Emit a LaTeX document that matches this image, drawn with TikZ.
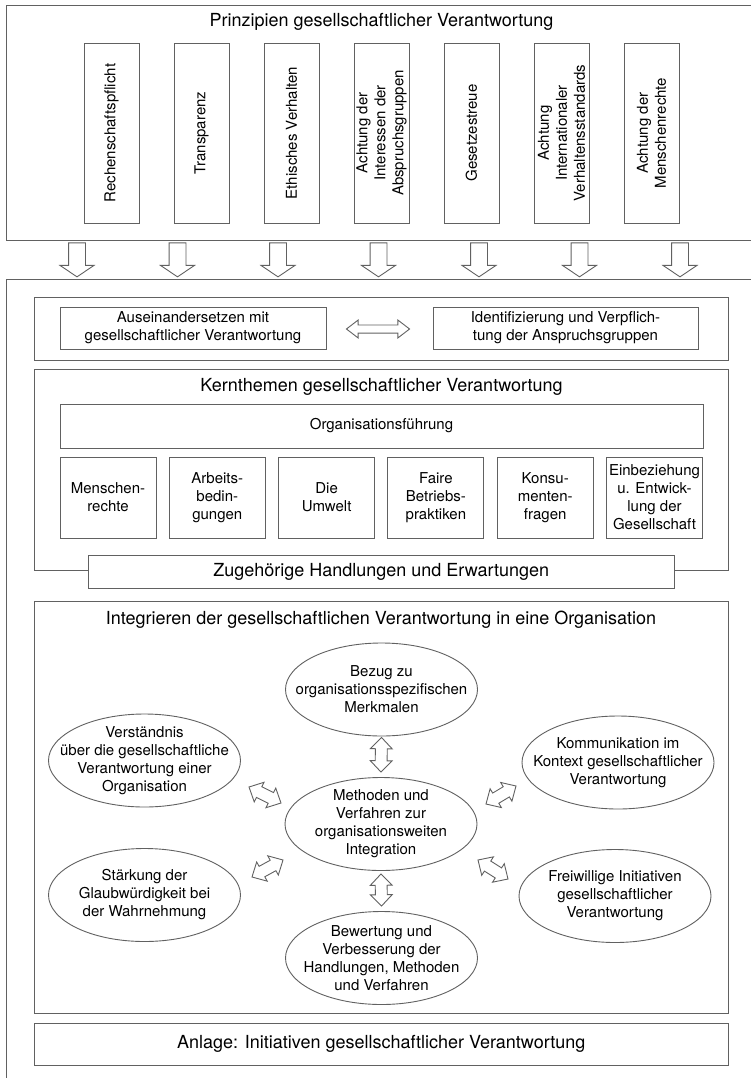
\documentclass[tikz,border=0pt]{standalone}
\usepackage{fontspec}
\setmainfont{TeX Gyre Heros}
\usetikzlibrary{shapes.geometric,shapes.arrows,calc}
\definecolor{linegray}{gray}{0.38}
\newcommand{\fatarrow}[3]{%
  \path let \p1 = ($(#3)-(#2)$) in
    node[#1, rotate={atan2(\y1,\x1)}, minimum height={veclen(\x1,\y1)}]
      at ($(#2)!0.5!(#3)$) {};
}
\tikzset{
  frame/.style     = {draw=linegray, line width=0.9pt},
  caption/.style   = {font=\fontsize{18}{21}\selectfont},
  body/.style      = {font=\fontsize{15}{18}\selectfont, align=center},
  panel/.style     = {frame, fill=white, minimum width=693.5pt, inner sep=0pt},
  textbox/.style   = {frame, body, minimum height=42pt, inner sep=0pt},
  principle/.style = {frame, body, rotate=90, minimum width=180pt,
                      minimum height=55pt, inner sep=0pt},
  topic/.style     = {frame, body, minimum width=96pt, minimum height=81pt,
                      inner sep=0pt},
  field/.style     = {frame, body, ellipse, minimum width=192pt,
                      minimum height=93pt, inner sep=-30pt},
  downarrow/.style = {frame, single arrow, inner xsep=0pt, inner ysep=8pt,
                      single arrow head extend=8.5pt,
                      single arrow tip angle=112, outer sep=0pt},
  twoway/.style    = {frame, double arrow, inner xsep=0pt, inner ysep=3.6pt,
                      double arrow head extend=4.9pt,
                      double arrow tip angle=75, outer sep=0pt},
  bigtwoway/.style = {frame, double arrow, inner xsep=0pt, inner ysep=5.5pt,
                      double arrow head extend=5pt,
                      double arrow tip angle=88, outer sep=0pt}
}
\begin{document}
\begin{tikzpicture}[x=1pt, y=-1pt]
  \useasboundingbox (0,0) rectangle (751,1078);
  \draw[frame] (751,5) -| (6,240) -- (751,240);
  \node[caption] (principles) at (381.5,22) {Prinzipien gesellschaftlicher Verantwortung};
  \foreach \txt [count=\i from 0] in {Rechenschaftspflicht, Transparenz,
      Ethisches Verhalten, {Achtung der\\Interessen der\\Abspruchsgruppen},
      Gesetzestreue, {Achtung\\Internationaler\\Verhaltensstandards},
      {Achtung der\\Menschenrechte}}
    \node[principle] (prin\i) at (111.5+90*\i,133) {\txt};
  \foreach \i in {0,...,6} {
    \coordinate (out\i) at (77+100.5*\i,240);
    \coordinate (in\i) at (77+100.5*\i,274);
    \fatarrow{downarrow}{out\i}{in\i}
  }

  \draw[frame] (751,279) -| (6,1078);

  \node[panel, minimum height=63pt] (engage) at (381.25,328.5) {};
  \node[textbox, minimum width=266pt] (recognise) at (193,328)
    {Auseinandersetzen mit\\gesellschaftlicher Verantwortung};
  \node[textbox, minimum width=265pt] (stakeholders) at (565.5,328)
    {Identifizierung und Verpflich-\\tung der Anspruchsgruppen};
  \coordinate (rs1) at ($(recognise.east)+(20,1)$);
  \coordinate (rs2) at ($(stakeholders.west)+(-23,1)$);
  \fatarrow{twoway}{rs1}{rs2}

  \node[panel, minimum height=201pt] (core) at (381.25,469.5) {};
  \node[caption] (coretitle) at (381.5,387) {Kernthemen gesellschaftlicher Verantwortung};
  \node[frame, body, minimum width=643pt, minimum height=44pt] (governance)
    at (381.5,426) {Organisationsführung};
  \foreach \txt [count=\i from 0] in {{Menschen-\\rechte},
      {Arbeits-\\bedin-\\gungen}, {Die\\Umwelt}, {Faire\\Betriebs-\\praktiken},
      {Konsu-\\menten-\\fragen}, {Einbeziehung\\u. Entwick-\\lung der\\Gesellschaft}}
    \node[topic] (topic\i) at (108+109.3*\i,497.5) {\txt};
  \node[frame, caption, fill=white, minimum width=585.5pt, minimum height=33.5pt,
        inner sep=0pt] (actions) at (381.25,572) {Zugehörige Handlungen und Erwartungen};

  \node[panel, minimum height=412pt] (integrate) at (381.25,807) {};
  \node[caption] (inttitle) at (381,620)
    {Integrieren der gesellschaftlichen Verantwortung in eine Organisation};
  \node[field] (methods) at (381,824)
    {Methoden und\\Verfahren zur\\organisationsweiten\\Integration};
  \node[field] (profile) at (381.5,689.5)
    {Bezug zu\\organisationsspezifischen\\Merkmalen};
  \node[field] (review) at (381.5,958)
    {Bewertung und\\Verbesserung der\\Handlungen, Methoden\\und Verfahren};
  \node[field] (insight) at (144.5,760.5)
    {Verständnis\\über die gesellschaftliche\\Verantwortung einer\\Organisation};
  \node[field] (trust) at (144.5,895)
    {Stärkung der\\Glaubwürdigkeit bei\\der Wahrnehmung};
  \node[field] (talk) at (618,762.5)
    {Kommunikation im\\Kontext gesellschaftlicher\\Verantwortung};
  \node[field] (volunteer) at (615,896)
    {Freiwillige Initiativen\\gesellschaftlicher\\Verantwortung};

  \coordinate (up1) at ($(profile.south)+(0,1)$);
  \coordinate (up2) at ($(methods.north)+(0,-5)$);
  \coordinate (dn1) at ($(methods.south)+(0,3)$);
  \coordinate (dn2) at ($(review.north)+(0,-5)$);
  \coordinate (lt1) at ($(methods)+(-132,-37)$);
  \coordinate (lt2) at ($(methods)+(-100,-21)$);
  \coordinate (lb1) at ($(methods)+(-129,53)$);
  \coordinate (lb2) at ($(methods)+(-98,36)$);
  \coordinate (rt1) at ($(methods)+(105,-20)$);
  \coordinate (rt2) at ($(methods)+(135,-38)$);
  \coordinate (rb1) at ($(methods)+(97,36)$);
  \coordinate (rb2) at ($(methods)+(127,55)$);
  \fatarrow{bigtwoway}{up1}{up2}
  \fatarrow{bigtwoway}{dn1}{dn2}
  \fatarrow{bigtwoway}{lt1}{lt2}
  \fatarrow{bigtwoway}{lb1}{lb2}
  \fatarrow{bigtwoway}{rt1}{rt2}
  \fatarrow{bigtwoway}{rb1}{rb2}

  \node[panel, caption, minimum height=42pt] (annex) at (381.25,1044)
    {Anlage: Initiativen gesellschaftlicher Verantwortung};
\end{tikzpicture}
\end{document}
